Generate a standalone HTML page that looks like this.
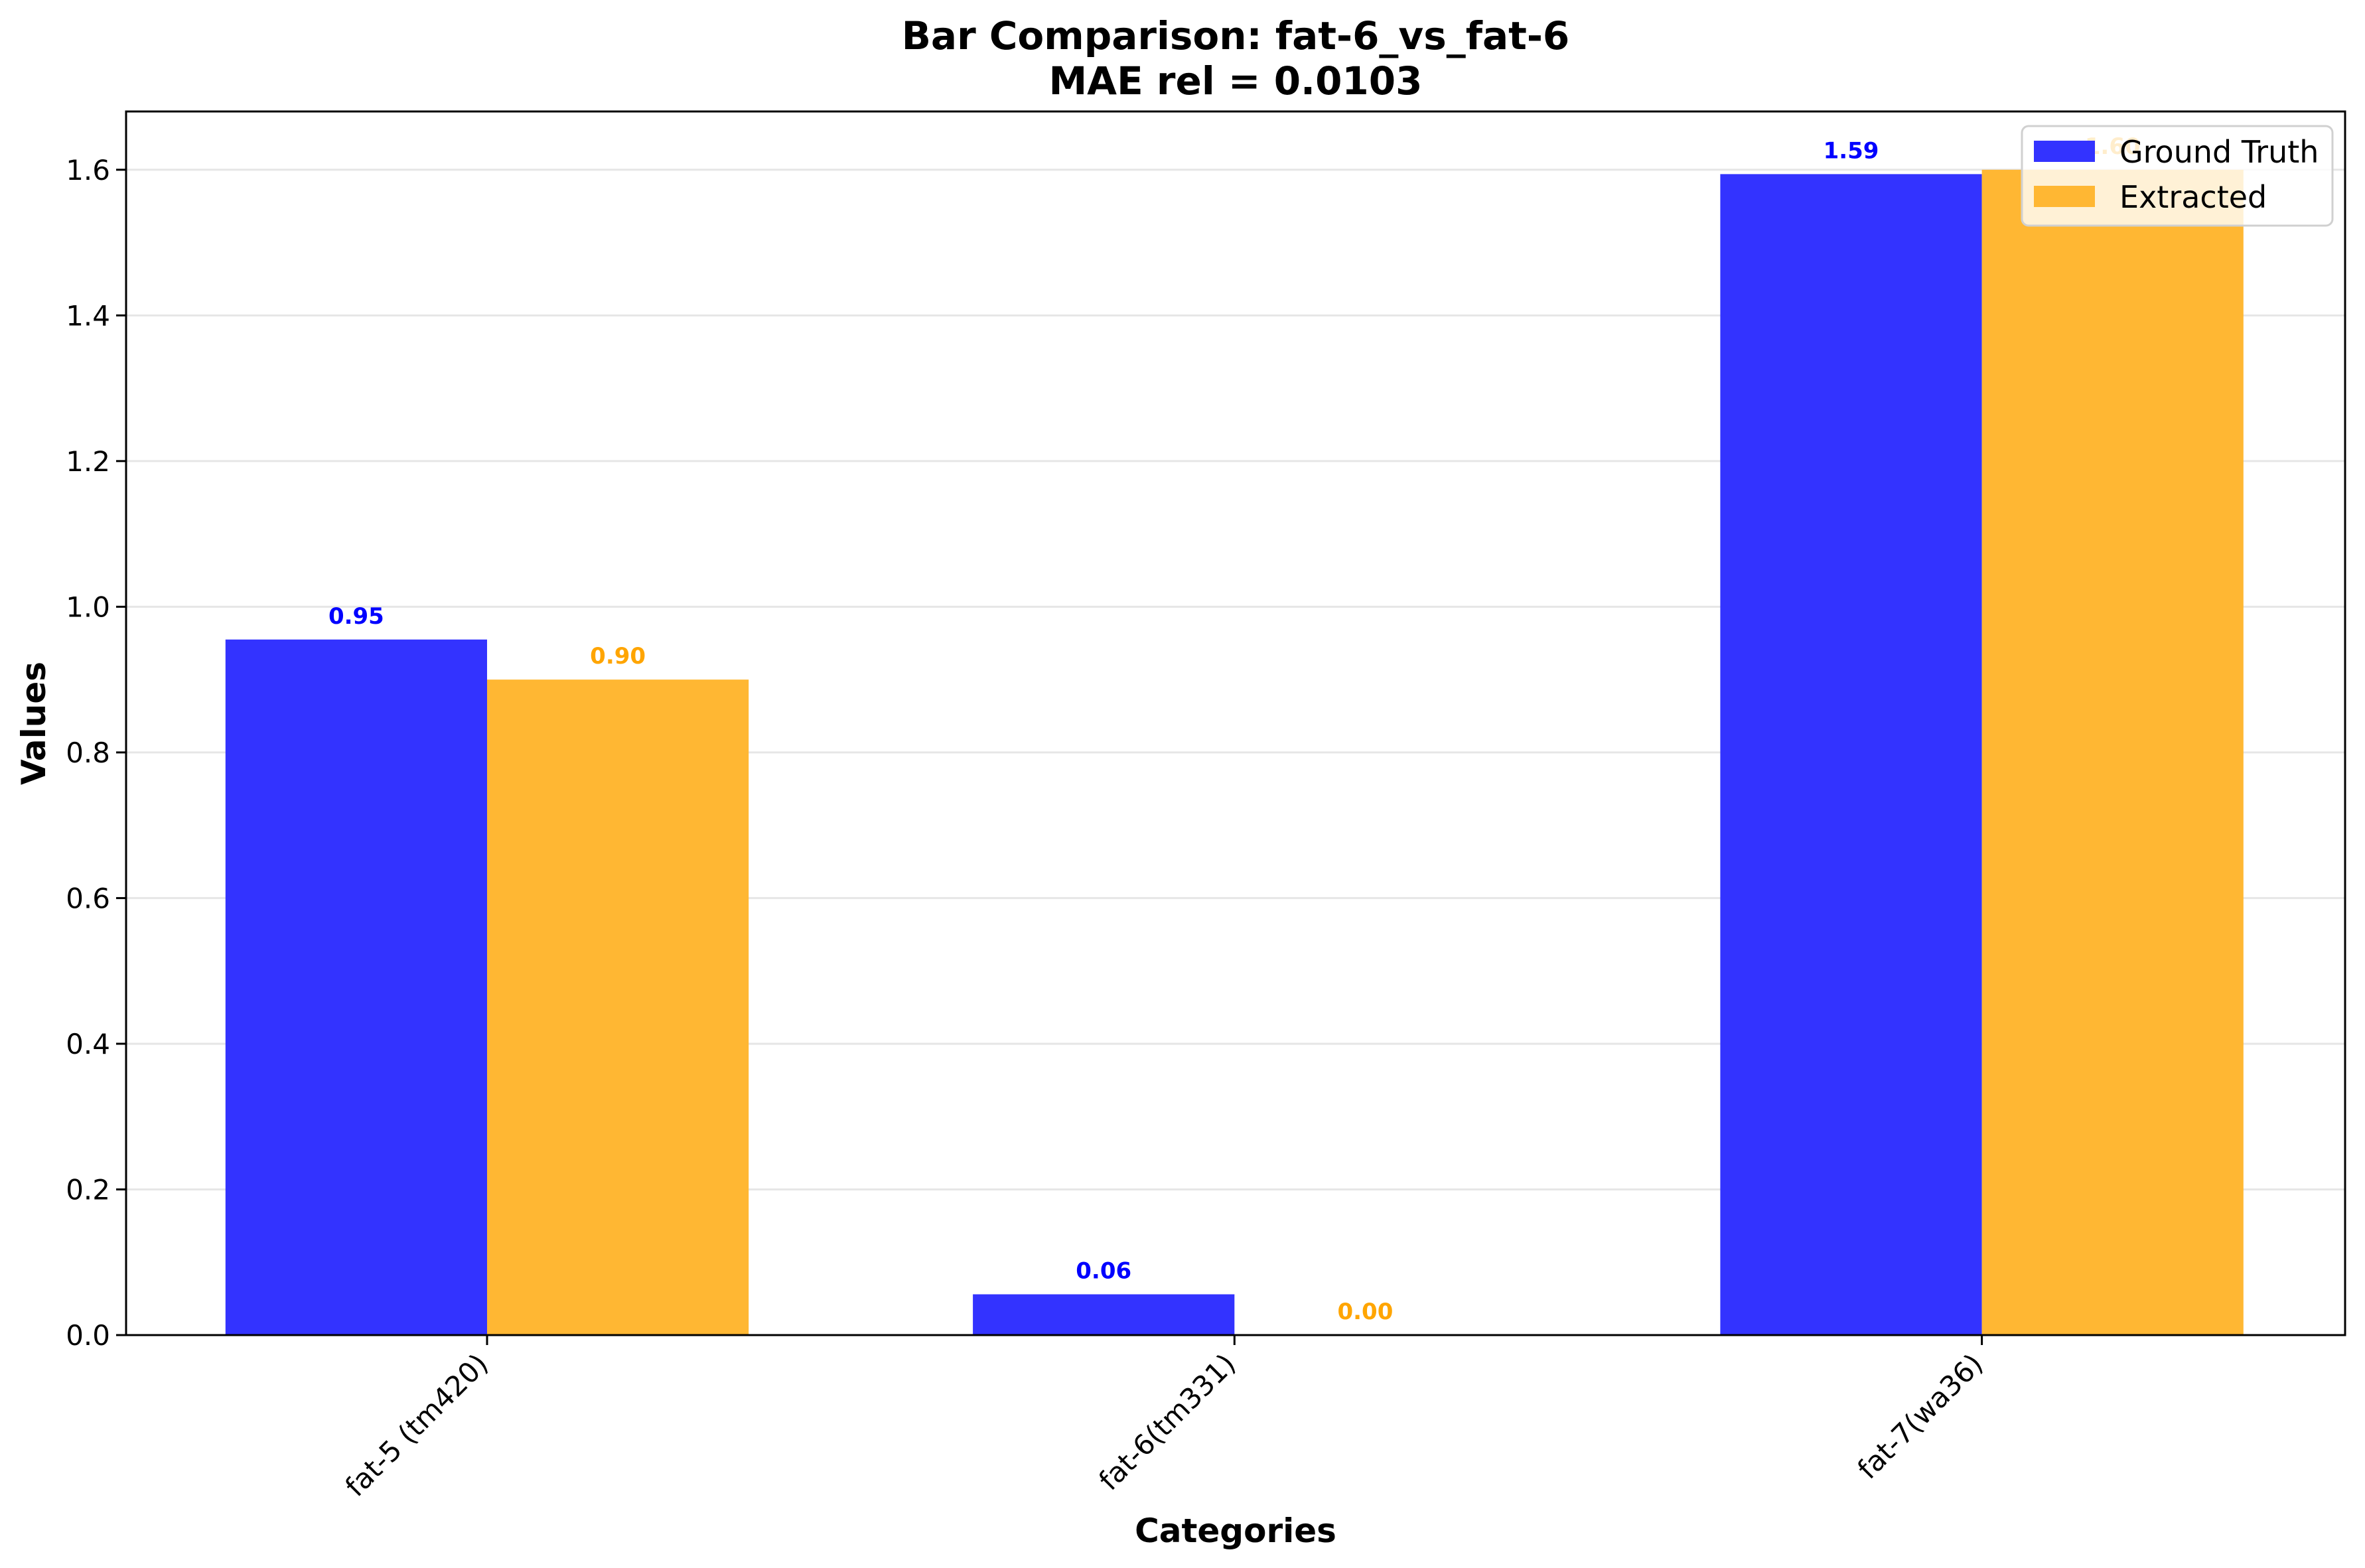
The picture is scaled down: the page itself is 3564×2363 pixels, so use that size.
<!DOCTYPE html>
<html><head><meta charset="utf-8"><style>html,body{margin:0;padding:0;background:#fff}svg{display:block}text{font-family:"DejaVu Sans","Liberation Sans",sans-serif}</style></head>
<body>
<svg id="chart" width="3564" height="2363" viewBox="0 0 3564 2363" xmlns="http://www.w3.org/2000/svg">
<rect width="3564" height="2363" fill="#fff"/>
<text x="1862" y="74" font-size="58" font-weight="bold" text-anchor="middle">Bar Comparison: fat-6_vs_fat-6</text>
<text x="1862" y="142" font-size="58" font-weight="bold" text-anchor="middle">MAE rel = 0.0103</text>
<g id="grid"></g>
<g id="bars"></g>
<g id="axes"></g>
<text x="0" y="0" font-size="50" font-weight="bold" text-anchor="middle" transform="translate(68,1090) rotate(-90)">Values</text>
<text x="1862" y="2324" font-size="50" font-weight="bold" text-anchor="middle">Categories</text>
<g>
<rect x="3047" y="190" width="468" height="150" rx="10" fill="#fff" fill-opacity="0.8" stroke="#d0d0d0" stroke-width="3"/>
<rect x="3065" y="212" width="92" height="32" fill="#3333ff"/>
<text x="3194" y="245" font-size="46">Ground Truth</text>
<rect x="3065" y="280" width="92" height="32" fill="#ffb733"/>
<text x="3194" y="313" font-size="46">Extracted</text>
</g>
</svg>
<script>
const categories = ["fat-5 (tm420)", "fat-6(tm331)", "fat-7(wa36)"];
const groundTruth = [0.955, 0.056, 1.594];
const extracted = [0.90, 0.00, 1.600];
const yTicks = [0.0, 0.2, 0.4, 0.6, 0.8, 1.0, 1.2, 1.4, 1.6];

const NS = "http://www.w3.org/2000/svg";
const L = 190, R = 3534, T = 168, B = 2012;
const yMax = 1.680, xMin = -0.483, xMax = 2.486;
const yS = v => B - v / yMax * (B - T);
const xS = c => L + (c - xMin) / (xMax - xMin) * (R - L);
const barW = 0.35 * (xS(1) - xS(0));
function mk(tag, attrs, parent) {
  const e = document.createElementNS(NS, tag);
  for (const k in attrs) e.setAttribute(k, attrs[k]);
  parent.appendChild(e);
  return e;
}
const grid = document.getElementById('grid');
const axes = document.getElementById('axes');
const bars = document.getElementById('bars');
yTicks.forEach(t => {
  const y = yS(t);
  const g = mk('line', {x1: L, x2: R, y1: y, y2: y, stroke: '#e6e6e6', 'stroke-width': 3}, grid);
  
  
  const tk = mk('line', {x1: L - 15, x2: L, y1: y, y2: y, stroke: '#000', 'stroke-width': 3}, axes);
  
  
  const lb = mk('text', {x: L - 24, y: y + 15, 'font-size': 42, 'text-anchor': 'end'}, axes);
  lb.textContent = t.toFixed(1);
  
  
});
categories.forEach((c, i) => {
  const cx = xS(i);
  const series = [[groundTruth[i], '#3333ff', '#0000ff', cx - barW, 'ground-truth'], [extracted[i], '#ffb733', '#ffa500', cx, 'extracted']];
  series.forEach(s => {
    const y = yS(s[0]);
    const r = mk('rect', {x: s[3], y: y, width: barW, height: B - y, fill: s[1]}, bars);
    
    
    const v = mk('text', {x: s[3] + barW / 2, y: y - 24, 'font-size': 34, 'font-weight': 'bold', 'text-anchor': 'middle', fill: s[2]}, bars);
    v.textContent = s[0].toFixed(2);
    
    
  });
  const tk = mk('line', {x1: cx, x2: cx, y1: B, y2: B + 15, stroke: '#000', 'stroke-width': 3}, axes);
  
  
  const lb = mk('text', {x: 0, y: 0, 'font-size': 42, 'text-anchor': 'end', transform: 'translate(' + (cx + 4) + ',' + (B + 46) + ') rotate(-45)'}, axes);
  lb.textContent = c;
  
  
});
const frame = mk('rect', {x: L, y: T, width: R - L, height: B - T, fill: 'none', stroke: '#000', 'stroke-width': 3}, axes);


</script>
</body></html>
